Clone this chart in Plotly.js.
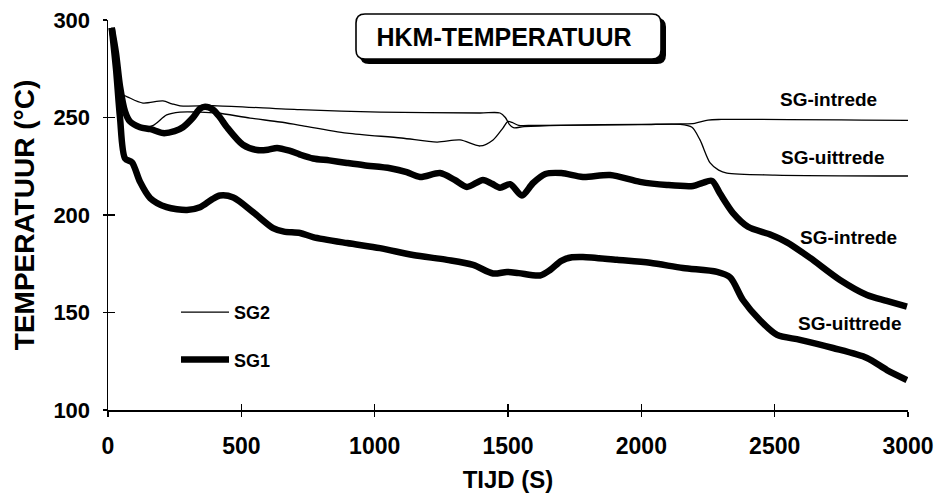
<!DOCTYPE html>
<html>
<head>
<meta charset="utf-8">
<script src="https://cdn.plot.ly/plotly-3.0.1.min.js"></script>
<style>html,body{margin:0;padding:0;background:#fff;}#chart{width:936px;height:497px;}</style>
</head>
<body>
<div id="chart"></div>
<script>
// ---- data (time in s, temperature in °C) ----
const timeSG1in = [14, 30, 45, 64, 82, 120, 160, 206, 250, 281, 319, 345, 364, 394, 420, 446, 506, 559, 600, 634, 680, 720, 769, 830, 896, 960, 1058, 1120, 1170, 1245, 1300, 1346, 1406, 1440, 1470, 1508, 1552, 1594, 1640, 1700, 1781, 1883, 1995, 2096, 2194, 2230, 2265, 2295, 2344, 2400, 2483, 2546, 2633, 2745, 2846, 2920, 2996];
const tempSG1in = [296, 283, 266, 253, 248, 245, 244, 242, 243, 245, 250, 254.5, 255.5, 254, 250, 245, 236, 233.3, 233.5, 234.4, 233, 231, 229, 228, 226.7, 225.5, 224, 222, 219.5, 221.5, 218, 214.4, 218, 216, 214, 215.8, 210, 216.4, 221, 221.5, 219.5, 220.5, 217, 215.4, 214.9, 216.5, 217.5, 211, 201, 194, 190, 186, 178, 166.7, 159, 156, 153];

const timeSG1uit = [14, 30, 45, 64, 90, 120, 158, 220, 296, 345, 390, 420, 470, 544, 619, 660, 720, 769, 896, 1020, 1144, 1271, 1369, 1444, 1496, 1540, 1620, 1658, 1700, 1740, 1781, 1909, 2033, 2156, 2284, 2333, 2381, 2445, 2509, 2595, 2719, 2846, 2921, 2996];
const tempSG1uit = [296, 275, 250, 229, 227, 217, 208.7, 204, 202.6, 204, 208, 210, 209, 201.5, 193.3, 191.5, 190.8, 188.7, 185.6, 183, 179.5, 177, 174.4, 170, 170.8, 170.2, 169, 171.8, 176.5, 178.3, 178.5, 177, 175.5, 172.8, 170.8, 168, 156.4, 146, 138.5, 136, 131.8, 126.7, 120.5, 115.4];

const timeSG2in = [14, 30, 45, 82, 131, 206, 240, 270, 409, 720, 1020, 1395, 1470, 1490, 1505, 1520, 1560, 1700, 2000, 2150, 2200, 2250, 2300, 3000];
const tempSG2in = [296, 275, 263, 260, 257.4, 258.5, 257, 256, 256, 254, 252.8, 252.3, 252.3, 250, 246.5, 244.8, 245.3, 246, 246.5, 246.7, 247, 248.7, 249, 248.5];

const timeSG2uit = [14, 45, 64, 82, 120, 170, 220, 270, 345, 409, 533, 645, 720, 896, 1100, 1234, 1320, 1395, 1444, 1481, 1500, 1515, 1540, 1600, 2000, 2145, 2190, 2220, 2258, 2290, 2321, 2500, 3000];
const tempSG2uit = [296, 265, 253, 248, 245, 246, 251.3, 252.8, 252.8, 252.3, 249.7, 247.7, 246, 242, 239.5, 237.4, 238.5, 235.4, 238.5, 244.6, 248, 247.5, 246, 246, 246.3, 246.5, 245, 238.5, 226.7, 223, 221.5, 220.5, 220];

const xTickVals = [0, 500, 1000, 1500, 2000, 2500, 3000];
const xTickText = ['0', '500', '1000', '1500', '2000', '2500', '3000'];
const yTickVals = [100, 150, 200, 250, 300];
const yTickText = ['100', '150', '200', '250', '300'];

const seriesNames = ['SG2', 'SG1'];
const curveLabels = ['SG-intrede', 'SG-uittrede', 'SG-intrede', 'SG-uittrede'];
const curveLabelX = [2700, 2715, 2775, 2779];
const curveLabelY = [259, 229.7, 188.7, 144.6];

// ---- geometry helpers (plot area: 108..908 px horizontally, 20..410 px vertically) ----
const ML = 108, MT = 20, PW = 800, PH = 390;
const px2x = p => (p - ML) / PW;
const px2y = p => (MT + PH - p) / PH;
function roundRect(x0, y0, x1, y1, r) {
  const X = px2x, Y = px2y;
  return 'M' + X(x0 + r) + ',' + Y(y0) +
    ' L' + X(x1 - r) + ',' + Y(y0) +
    ' Q' + X(x1) + ',' + Y(y0) + ' ' + X(x1) + ',' + Y(y0 + r) +
    ' L' + X(x1) + ',' + Y(y1 - r) +
    ' Q' + X(x1) + ',' + Y(y1) + ' ' + X(x1 - r) + ',' + Y(y1) +
    ' L' + X(x0 + r) + ',' + Y(y1) +
    ' Q' + X(x0) + ',' + Y(y1) + ' ' + X(x0) + ',' + Y(y1 - r) +
    ' L' + X(x0) + ',' + Y(y0 + r) +
    ' Q' + X(x0) + ',' + Y(y0) + ' ' + X(x0 + r) + ',' + Y(y0) + ' Z';
}

const FONT = 'Liberation Sans, Arial, sans-serif';
const thin = {color: '#000', width: 1.3, shape: 'spline', smoothing: 0.8};
const thick = {color: '#000', width: 6.5, shape: 'spline', smoothing: 0.8};

const traces = [
  {x: timeSG2in, y: tempSG2in, type: 'scatter', mode: 'lines', line: thin, name: seriesNames[0], legendgroup: 'sg2', legendrank: 1, showlegend: true, hoverinfo: 'skip'},
  {x: timeSG2uit, y: tempSG2uit, type: 'scatter', mode: 'lines', line: thin, name: seriesNames[0], legendgroup: 'sg2', showlegend: false, hoverinfo: 'skip'},
  {x: timeSG1in, y: tempSG1in, type: 'scatter', mode: 'lines', line: thick, name: seriesNames[1], legendgroup: 'sg1', legendrank: 2, showlegend: true, hoverinfo: 'skip'},
  {x: timeSG1uit, y: tempSG1uit, type: 'scatter', mode: 'lines', line: thick, name: seriesNames[1], legendgroup: 'sg1', showlegend: false, hoverinfo: 'skip'},
  {x: [], y: [], xaxis: 'x2', yaxis: 'y2', type: 'scatter', mode: 'lines', showlegend: false, hoverinfo: 'skip'}
];

const layout = {
  width: 936, height: 497,
  margin: {l: ML, r: 936 - ML - PW, t: MT, b: 497 - MT - PH},
  paper_bgcolor: '#fff', plot_bgcolor: 'rgba(0,0,0,0)',
  showlegend: true,
  title: {
    text: 'HKM-TEMPERATUUR',
    font: {family: FONT, size: 25, weight: 'bold', color: '#000'},
    xref: 'container', x: 504 / 936, xanchor: 'center',
    yref: 'container', y: 1 - 37 / 497, yanchor: 'middle'
  },
  xaxis: {
    range: [0, 3000], tickmode: 'array', tickvals: xTickVals, ticktext: xTickText,
    ticks: 'outside', ticklen: 5, tickwidth: 1.5, tickcolor: '#000',
    showline: true, linewidth: 2, linecolor: '#000', showgrid: false, zeroline: false,
    tickfont: {family: FONT, size: 23, weight: 'bold', color: '#000'}, ticklabelstandoff: 9,
    title: {text: 'TIJD (S)', font: {family: FONT, size: 24, weight: 'bold', color: '#000'}, standoff: 14},
    automargin: false, fixedrange: true
  },
  yaxis: {
    range: [100, 300], tickmode: 'array', tickvals: yTickVals, ticktext: yTickText,
    ticks: 'outside', ticklen: 4, tickwidth: 1.5, tickcolor: '#000',
    showline: true, linewidth: 1.5, linecolor: '#000', showgrid: false, zeroline: false,
    tickfont: {family: FONT, size: 22, weight: 'bold', color: '#000'}, ticklabelstandoff: 8,
    title: {text: 'TEMPERATUUR (°C)', font: {family: FONT, size: 28, weight: 'bold', color: '#000'}, standoff: 10},
    automargin: false, fixedrange: true
  },
  xaxis2: {
    overlaying: 'x', anchor: 'y2', side: 'bottom', range: [0, 3000], tickmode: 'array', tickvals: xTickVals,
    ticks: 'inside', ticklen: 6, tickwidth: 1.5, tickcolor: '#000',
    showticklabels: false, showline: false, showgrid: false, zeroline: false, fixedrange: true
  },
  yaxis2: {
    overlaying: 'y', anchor: 'x2', side: 'left', range: [100, 300], tickmode: 'array', tickvals: yTickVals,
    ticks: 'inside', ticklen: 7, tickwidth: 1.5, tickcolor: '#000',
    showticklabels: false, showline: false, showgrid: false, zeroline: false, fixedrange: true
  },
  legend: {
    x: px2x(176), xanchor: 'left', y: px2y(294), yanchor: 'top',
    bgcolor: 'rgba(0,0,0,0)', borderwidth: 0,
    font: {family: FONT, size: 18, weight: 'bold', color: '#000'},
    tracegroupgap: 21, itemwidth: 48, traceorder: 'grouped'
  },
  shapes: [
    {type: 'path', xref: 'paper', yref: 'paper', path: roundRect(360, 18, 666, 64, 9), fillcolor: '#000', line: {color: '#000', width: 0}, layer: 'above'},
    {type: 'path', xref: 'paper', yref: 'paper', path: roundRect(356, 14, 661, 59, 9), fillcolor: '#fff', line: {color: '#000', width: 1.6}, layer: 'above'}
  ],
  annotations: curveLabels.map((t, i) => ({
    text: t, x: curveLabelX[i], y: curveLabelY[i], xref: 'x', yref: 'y',
    showarrow: false, xanchor: 'center', yanchor: 'middle',
    font: {family: FONT, size: 19, weight: 'bold', color: '#000'}
  }))
};

Plotly.newPlot('chart', traces, layout, {staticPlot: true, displayModeBar: false});
</script>
</body>
</html>
